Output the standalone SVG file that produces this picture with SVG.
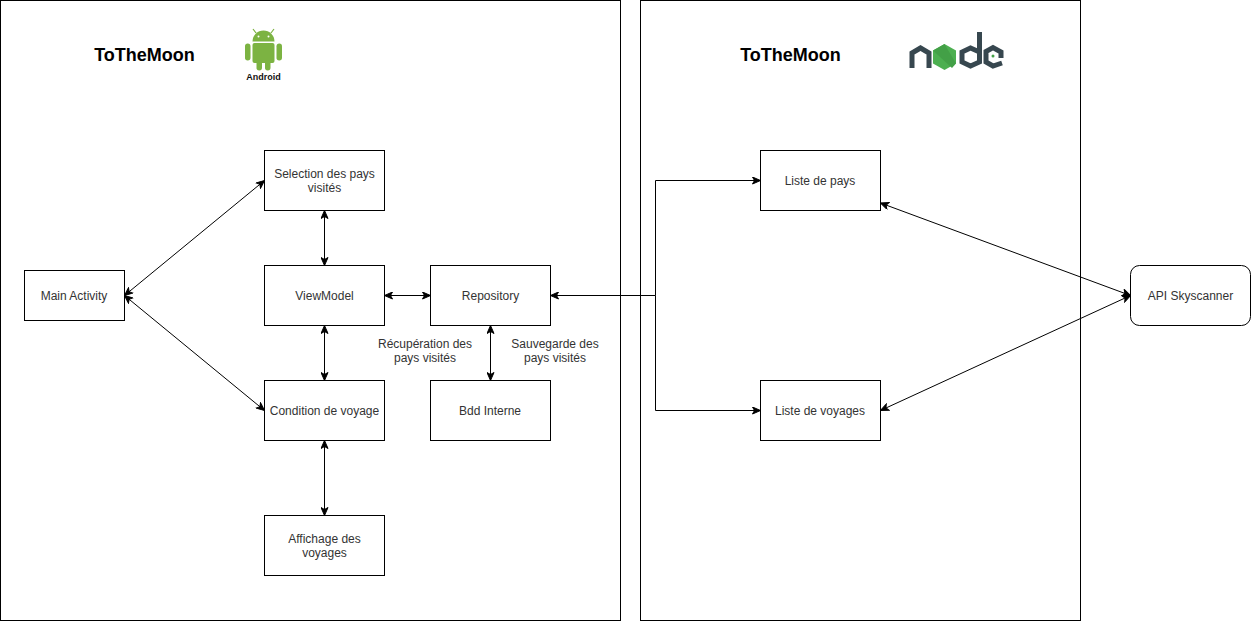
<svg xmlns="http://www.w3.org/2000/svg" width="1251" height="621" viewBox="0 0 1251 621">
<style>
.box{fill:#fff;stroke:#000;stroke-width:1}
.panel{fill:#fff;stroke:#000;stroke-width:1}
.lbl{font-family:"Liberation Sans",Arial,sans-serif;font-size:12px;fill:#333;text-anchor:middle}
.title{font-family:"Liberation Sans",Arial,sans-serif;font-size:18px;font-weight:bold;fill:#000;text-anchor:middle}
.conn{fill:none;stroke:#000;stroke-width:1;marker-start:url(#ah);marker-end:url(#ah)}
.one{fill:none;stroke:#000;stroke-width:1;marker-end:url(#ah)}
.nd{fill:none;stroke:#37474f;stroke-width:5}
</style>
<defs>
<marker id="ah" viewBox="0 0 10 8" refX="9" refY="4" markerWidth="10" markerHeight="8" markerUnits="userSpaceOnUse" orient="auto-start-reverse">
<path d="M1 0.5 L9 4 L1 7.5 L3 4 Z" fill="#000" stroke="#000" stroke-width="1"/>
</marker>
</defs>
<rect width="1251" height="621" fill="#fff"/>
<g id="panel-android"><rect class="panel" x="0.5" y="0.5" width="620" height="620"/><text class="title" x="144.500" y="60.500">ToTheMoon</text></g>
<g id="panel-node"><rect class="panel" x="640.500" y="0.500" width="440" height="620"/><text class="title" x="790.500" y="60.500">ToTheMoon</text></g>
<g id="logo-android" fill="#7cb342">
<path d="M252.500 41.500 a11 11 0 0 1 22 0 Z"/>
<path d="M256 33 L253 29 M271 33 L274 29" stroke="#7cb342" stroke-width="1.200" fill="none"/>
<rect x="252.500" y="43" width="22" height="20" rx="2"/>
<rect x="245" y="43.500" width="5.500" height="17" rx="2.700"/>
<rect x="276.500" y="43.500" width="5.500" height="17" rx="2.700"/>
<rect x="256.500" y="60" width="5.500" height="10.500" rx="2.700"/>
<rect x="265" y="60" width="5.500" height="10.500" rx="2.700"/>
<circle cx="258.500" cy="36.500" r="1" fill="#fff"/>
<circle cx="268.500" cy="36.500" r="1" fill="#fff"/>
<text x="263.500" y="79.500" font-family="'Liberation Sans',Arial,sans-serif" font-size="9px" font-weight="bold" fill="#111" text-anchor="middle">Android</text>
</g>
<g id="logo-node">
<path class="nd" d="M912 68 V53 L920.500 48 L929 53 V68"/>
<path d="M944.500 44 L956 50.500 V63.500 L944.500 70 L933 63.500 V50.500 Z" fill="#4caf50"/>
<path d="M944.500 44 L933 50.500 L952 68 L956 63.500 Z" fill="#43a047"/>
<path class="nd" d="M979.500 32 V62 L970.500 66 L962 62 V52 L970.500 48 L979.500 52"/>
<path class="nd" d="M1002 63 L993 66 L986 62 V51.500 L993 47.500 L1001 52 V58"/>
<path d="M992 55 L1003 55 V60 H992 Z" fill="#37474f" opacity="0"/>
<circle cx="993" cy="56" r="1.500" fill="#43a047"/>
</g>
<g id="connectors">
<path class="conn" d="M124.500 295.500 L264.500 180.500"/>
<path class="conn" d="M124.500 295.500 L264.500 410.500"/>
<path class="conn" d="M324.500 210.500 V265.500"/>
<path class="conn" d="M324.500 325.500 V380.500"/>
<path class="conn" d="M324.500 440.500 V515.500"/>
<path class="conn" d="M384.500 295.500 H430.500"/>
<path class="conn" d="M490.500 325.500 V380.500"/>
<path class="one" d="M655.500 295.500 H550.500"/>
<path class="one" d="M655.500 295.500 V180.500 H760.500"/>
<path class="one" d="M655.500 295.500 V410.500 H760.500"/>
<path class="conn" d="M880.500 203 L1130.500 295.500"/>
<path class="conn" d="M880.500 410.500 L1130.500 295.500"/>
</g>
<g id="main-activity"><rect class="box" x="24.500" y="270.500" width="100" height="50"/><text class="lbl" x="74" y="300">Main Activity</text></g>
<g id="selection"><rect class="box" x="264.500" y="150.500" width="120" height="60"/><text class="lbl" x="324.500" y="177.500">Selection des pays</text><text class="lbl" x="324.500" y="191.500">visités</text></g>
<g id="viewmodel"><rect class="box" x="264.500" y="265.500" width="120" height="60"/><text class="lbl" x="324.500" y="300">ViewModel</text></g>
<g id="condition"><rect class="box" x="264.500" y="380.500" width="120" height="60"/><text class="lbl" x="324.500" y="415">Condition de voyage</text></g>
<g id="affichage"><rect class="box" x="264.500" y="515.500" width="120" height="60"/><text class="lbl" x="324.500" y="542.500">Affichage des</text><text class="lbl" x="324.500" y="556.500">voyages</text></g>
<g id="repository"><rect class="box" x="430.500" y="265.500" width="120" height="60"/><text class="lbl" x="490.500" y="300">Repository</text></g>
<g id="bdd"><rect class="box" x="430.500" y="380.500" width="120" height="60"/><text class="lbl" x="490" y="415">Bdd Interne</text></g>
<g id="label-recuperation"><text class="lbl" x="425" y="348">Récupération des</text><text class="lbl" x="425" y="362">pays visités</text></g>
<g id="label-sauvegarde"><text class="lbl" x="555" y="348">Sauvegarde des</text><text class="lbl" x="555" y="362">pays visités</text></g>
<g id="liste-pays"><rect class="box" x="760.500" y="150.500" width="120" height="60"/><text class="lbl" x="820" y="185">Liste de pays</text></g>
<g id="liste-voyages"><rect class="box" x="760.500" y="380.500" width="120" height="60"/><text class="lbl" x="820" y="415">Liste de voyages</text></g>
<g id="api"><rect class="box" x="1130.500" y="265.500" width="120" height="60" rx="9" ry="9"/><text class="lbl" x="1190.500" y="300">API Skyscanner</text></g>
</svg>
